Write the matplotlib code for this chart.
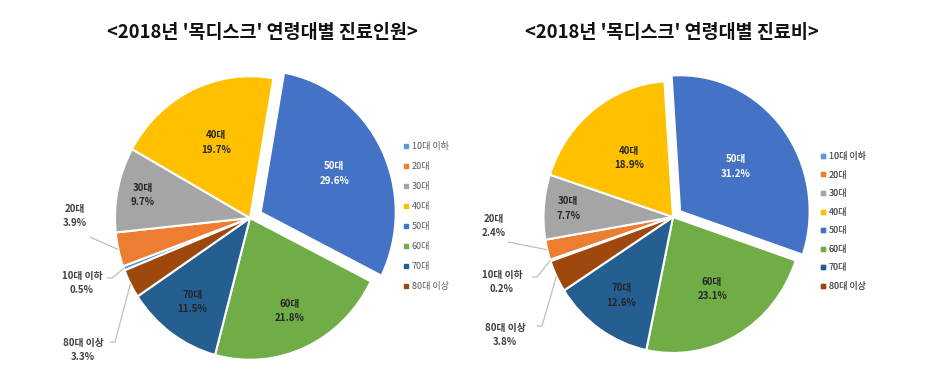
import matplotlib
matplotlib.use('Agg')
import matplotlib.pyplot as plt
import numpy as np
from matplotlib.lines import Line2D

plt.rcParams['font.family'] = ['Noto Sans CJK KR', 'DejaVu Sans']

# ---- data ----
categories = ['10대 이하', '20대', '30대', '40대', '50대', '60대', '70대', '80대 이상']
patients_pct = [0.5, 3.9, 9.7, 19.7, 29.6, 21.8, 11.5, 3.3]
cost_pct = [0.2, 2.4, 7.7, 18.9, 31.2, 23.1, 12.6, 3.8]
titles = ["<2018년 '목디스크' 연령대별 진료인원>", "<2018년 '목디스크' 연령대별 진료비>"]

colors = ['#5B9BD5', '#ED7D31', '#A5A5A5', '#FFC000', '#4472C4', '#70AD47', '#255E91', '#9E480E']

W, H = 928, 392
S = 1.05  # slight vertical stretch as in the reference
fig = plt.figure(figsize=(W / 100, H / 100), dpi=100)
ax = fig.add_axes([0, 0, 1, 1])


def P(px, py):
    return px, (H - py) / S


def draw(values, cx, cy, r, start, expl, fracs, outside, legend_xy, pitch, title, title_x):
    explode = [expl if c == '50대' else 0 for c in categories]
    wedges, _ = ax.pie(values, colors=colors, startangle=start, counterclock=False,
                       center=P(cx, cy), radius=r, explode=explode,
                       wedgeprops=dict(edgecolor='white', linewidth=1.5))
    c0 = np.array(P(cx, cy))
    for i, (cat, v, w) in enumerate(zip(categories, values, wedges)):
        mid = np.deg2rad((w.theta1 + w.theta2) / 2)
        label = f"{cat}\n{v:.1f}%"
        if cat in outside:
            (tx, ty), pts = outside[cat]
            edge = c0 + r * np.array([np.cos(mid), np.sin(mid)])
            xs = [P(*p)[0] for p in pts] + [edge[0]]
            ys = [P(*p)[1] for p in pts] + [edge[1]]
            ax.plot(xs, ys, color='#BFBFBF', lw=0.9, solid_capstyle='butt')
            ax.text(*P(tx, ty), label, ha='center', va='center', fontsize=7,
                    fontweight='bold', color='#404040', linespacing=1.45)
        else:
            pos = c0 + fracs[cat] * r * np.array([np.cos(mid), np.sin(mid)])
            col = 'white' if cat == '50대' else '#262626'
            ax.text(pos[0], pos[1], label, ha='center', va='center', fontsize=7,
                    fontweight='bold', color=col, linespacing=1.6)
    handles = [Line2D([], [], marker='s', ls='', color=c, markersize=3.3) for c in colors]
    leg = ax.legend(handles, categories, loc='upper left',
                    bbox_to_anchor=(legend_xy[0] / W, 1 - legend_xy[1] / H),
                    bbox_transform=fig.transFigure, frameon=False, fontsize=6.5,
                    handlelength=0.5, handletextpad=0.35, labelspacing=pitch,
                    borderpad=0, borderaxespad=0, labelcolor='#595959')
    ax.add_artist(leg)
    fig.text(title_x / W, 1 - 33 / H, title, ha='center', va='center',
             fontsize=13.3, fontweight='bold', color='#111111')


draw(patients_pct, 250, 218, 135, 201.7, 12,
     {'30대': 0.81, '40대': 0.59, '50대': 0.70, '60대': 0.72, '70대': 0.73},
     {'20대': ((75, 216), [(90, 237)]),
      '10대 이하': ((82, 283), [(107, 278), (112, 278)]),
      '80대 이상': ((83, 350), [(110, 342), (115, 342)])},
     (404, 142), 1.22, titles[0], 262)

draw(cost_pct, 673, 217, 129.5, 199, 9,
     {'30대': 0.81, '40대': 0.55, '50대': 0.61, '60대': 0.61, '70대': 0.70},
     {'20대': ((494, 226), [(508, 242)]),
      '10대 이하': ((502, 282), [(532, 277), (537, 277)]),
      '80대 이상': ((505, 335), [(537, 326), (542, 326)])},
     (821, 152), 1.06, titles[1], 672)

ax.set_aspect('auto')
ax.set_xlim(0, W)
ax.set_ylim(0, H / S)
ax.axis('off')

fig.savefig('out.png', dpi=100)
